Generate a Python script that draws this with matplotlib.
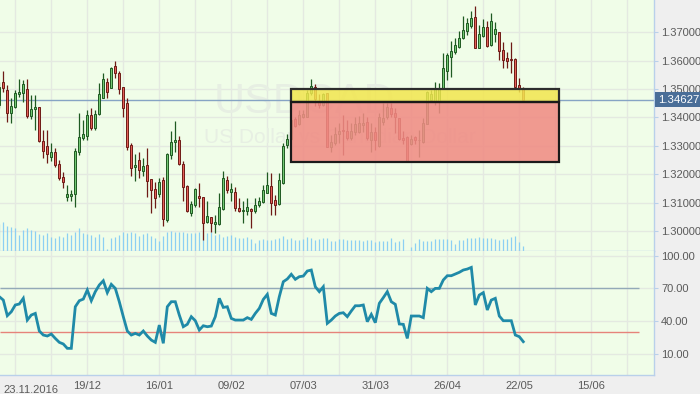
import matplotlib
matplotlib.use('Agg')
import matplotlib.pyplot as plt
import matplotlib.transforms as mtransforms
from matplotlib.patches import Rectangle
import numpy as np

plt.rcParams['font.family'] = ['Liberation Sans', 'DejaVu Sans']

# USD/CAD daily candles, 132 bars (index 0 = first partly visible bar)
opens = [1.3444, 1.3524, 1.3497, 1.3415, 1.3438, 1.3482, 1.3485, 1.3500, 1.3406, 1.3429,
         1.3436, 1.3317, 1.3301, 1.3262, 1.3278, 1.3236, 1.3190, 1.3121, 1.3125, 1.3130,
         1.3278, 1.3329, 1.3336, 1.3409, 1.3362, 1.3411, 1.3470, 1.3524, 1.3503, 1.3581,
         1.3556, 1.3507, 1.3450, 1.3303, 1.3225, 1.3251, 1.3213, 1.3233, 1.3183, 1.3147,
         1.3130, 1.3178, 1.3037, 1.3266, 1.3313, 1.3320, 1.3235, 1.3159, 1.3063, 1.3090,
         1.3124, 1.3119, 1.3031, 1.3049, 1.3024, 1.3024, 1.3077, 1.3180, 1.3139, 1.3139,
         1.3081, 1.3069, 1.3072, 1.3078, 1.3069, 1.3092, 1.3101, 1.3135, 1.3159, 1.3110,
         1.3096, 1.3169, 1.3303, 1.3324, 1.3394, 1.3377, 1.3402, 1.3403, 1.3485, 1.3509,
         1.3459, 1.3444, 1.3485, 1.3297, 1.3311, 1.3342, 1.3356, 1.3353, 1.3327, 1.3350,
         1.3350, 1.3374, 1.3383, 1.3321, 1.3347, 1.3300, 1.3383, 1.3401, 1.3433, 1.3417,
         1.3397, 1.3327, 1.3330, 1.3308, 1.3330, 1.3319, 1.3313, 1.3377, 1.3462, 1.3456,
         1.3458, 1.3503, 1.3565, 1.3614, 1.3630, 1.3647, 1.3679, 1.3706, 1.3723, 1.3753,
         1.3646, 1.3688, 1.3720, 1.3655, 1.3693, 1.3700, 1.3638, 1.3608, 1.3606, 1.3606,
         1.3515, 1.3501]
highs = [1.3525, 1.3564, 1.3515, 1.3468, 1.3497, 1.3536, 1.3532, 1.3536, 1.3479, 1.3479,
         1.3437, 1.3356, 1.3356, 1.3309, 1.3292, 1.3251, 1.3209, 1.3163, 1.3145, 1.3292,
         1.3415, 1.3391, 1.3427, 1.3435, 1.3427, 1.3521, 1.3556, 1.3538, 1.3579, 1.3599,
         1.3564, 1.3509, 1.3468, 1.3310, 1.3271, 1.3280, 1.3257, 1.3292, 1.3184, 1.3174,
         1.3186, 1.3190, 1.3274, 1.3353, 1.3388, 1.3335, 1.3245, 1.3163, 1.3104, 1.3151,
         1.3168, 1.3121, 1.3104, 1.3051, 1.3057, 1.3133, 1.3212, 1.3192, 1.3168, 1.3156,
         1.3118, 1.3107, 1.3118, 1.3080, 1.3116, 1.3121, 1.3163, 1.3207, 1.3204, 1.3127,
         1.3206, 1.3311, 1.3342, 1.3398, 1.3403, 1.3427, 1.3427, 1.3497, 1.3535, 1.3518,
         1.3483, 1.3487, 1.3487, 1.3339, 1.3368, 1.3380, 1.3409, 1.3390, 1.3380, 1.3403,
         1.3405, 1.3415, 1.3403, 1.3380, 1.3368, 1.3415, 1.3452, 1.3450, 1.3450, 1.3433,
         1.3399, 1.3353, 1.3333, 1.3339, 1.3336, 1.3356, 1.3397, 1.3493, 1.3497, 1.3524,
         1.3521, 1.3628, 1.3628, 1.3669, 1.3679, 1.3705, 1.3757, 1.3749, 1.3775, 1.3793,
         1.3726, 1.3746, 1.3740, 1.3767, 1.3737, 1.3702, 1.3665, 1.3632, 1.3667, 1.3609,
         1.3538, 1.3509]
lows = [1.3434, 1.3489, 1.3385, 1.3380, 1.3433, 1.3473, 1.3456, 1.3397, 1.3395, 1.3356,
        1.3313, 1.3257, 1.3239, 1.3245, 1.3227, 1.3180, 1.3153, 1.3104, 1.3104, 1.3083,
        1.3268, 1.3321, 1.3321, 1.3356, 1.3356, 1.3409, 1.3468, 1.3468, 1.3503, 1.3540,
        1.3482, 1.3403, 1.3286, 1.3192, 1.3177, 1.3186, 1.3192, 1.3121, 1.3063, 1.3080,
        1.3121, 1.3019, 1.3033, 1.3254, 1.3280, 1.3233, 1.3106, 1.3066, 1.3054, 1.3083,
        1.3086, 1.2969, 1.3028, 1.2996, 1.2992, 1.3022, 1.3074, 1.3133, 1.3104, 1.3069,
        1.3067, 1.3028, 1.3057, 1.3012, 1.3063, 1.3086, 1.3098, 1.3133, 1.3057, 1.3057,
        1.3092, 1.3166, 1.3293, 1.3321, 1.3368, 1.3374, 1.3397, 1.3401, 1.3479, 1.3441,
        1.3433, 1.3441, 1.3295, 1.3280, 1.3303, 1.3309, 1.3268, 1.3321, 1.3321, 1.3339,
        1.3344, 1.3350, 1.3321, 1.3280, 1.3286, 1.3297, 1.3374, 1.3394, 1.3403, 1.3344,
        1.3321, 1.3306, 1.3247, 1.3303, 1.3306, 1.3262, 1.3309, 1.3376, 1.3456, 1.3444,
        1.3415, 1.3503, 1.3532, 1.3544, 1.3624, 1.3644, 1.3676, 1.3691, 1.3716, 1.3644,
        1.3644, 1.3685, 1.3649, 1.3653, 1.3667, 1.3603, 1.3575, 1.3573, 1.3556, 1.3505,
        1.3489, 1.3465]
closes = [1.3509, 1.3503, 1.3415, 1.3441, 1.3485, 1.3489, 1.3517, 1.3406, 1.3430, 1.3438,
          1.3318, 1.3283, 1.3271, 1.3278, 1.3233, 1.3188, 1.3174, 1.3130, 1.3130, 1.3282,
          1.3330, 1.3342, 1.3409, 1.3362, 1.3411, 1.3482, 1.3536, 1.3489, 1.3573, 1.3556,
          1.3499, 1.3433, 1.3297, 1.3221, 1.3233, 1.3215, 1.3229, 1.3177, 1.3143, 1.3118,
          1.3172, 1.3042, 1.3271, 1.3315, 1.3320, 1.3235, 1.3154, 1.3069, 1.3095, 1.3148,
          1.3116, 1.3028, 1.3053, 1.3028, 1.3033, 1.3084, 1.3186, 1.3143, 1.3148, 1.3081,
          1.3069, 1.3073, 1.3083, 1.3069, 1.3092, 1.3107, 1.3145, 1.3163, 1.3100, 1.3092,
          1.3178, 1.3300, 1.3324, 1.3391, 1.3371, 1.3409, 1.3413, 1.3487, 1.3511, 1.3464,
          1.3443, 1.3483, 1.3297, 1.3315, 1.3342, 1.3353, 1.3353, 1.3327, 1.3353, 1.3377,
          1.3380, 1.3382, 1.3327, 1.3350, 1.3321, 1.3403, 1.3399, 1.3438, 1.3413, 1.3403,
          1.3323, 1.3322, 1.3248, 1.3323, 1.3321, 1.3322, 1.3380, 1.3489, 1.3483, 1.3499,
          1.3499, 1.3573, 1.3620, 1.3634, 1.3655, 1.3679, 1.3708, 1.3732, 1.3749, 1.3646,
          1.3693, 1.3720, 1.3652, 1.3741, 1.3711, 1.3634, 1.3603, 1.3600, 1.3603, 1.3509,
          1.3503, 1.34627]

volume = [80, 87, 75, 72, 69, 48, 63, 69, 63, 60, 51, 48, 54, 42, 39, 45, 42, 54, 48, 57, 69,
          54, 51, 48, 42, 51, 40, 5, 39, 42, 48, 57, 54, 57, 54, 45, 51, 54, 45, 39, 30,
          45, 57, 60, 57, 57, 57, 54, 54, 54, 57, 57, 54, 57, 48, 51, 42, 45, 48, 42, 39,
          39, 42, 36, 24, 33, 36, 33, 33, 36, 39, 45, 36, 39, 33, 33, 36, 42, 39, 33, 36,
          39, 39, 30, 30, 36, 36, 33, 33, 33, 33, 30, 33, 33, 27, 30, 30, 30, 39, 27, 30,
          36, 0, 12, 24, 36, 30, 30, 30, 36, 36, 36, 36, 33, 21, 33, 33, 39, 39, 39, 42,
          39, 39, 39, 36, 33, 36, 36, 42, 45, 27, 15]
volume_max = 752  # volume value at the top of the price panel

rsi = [62.5, 59.4, 45.1, 48.7, 54.9, 55.8, 61, 41.1, 45.7, 47.2,
       31.1, 27.4, 26.5, 28.3, 24.3, 20.7, 19.2, 15.2, 15.2, 53.3,
       58.8, 60.3, 68.6, 58.8, 67.1, 73.2, 77.1, 66.2, 73.8, 70.1,
       57.9, 44.2, 31.1, 27.4, 28.9, 27.4, 31.1, 26.5, 22.8, 20.7,
       36.5, 19.8, 53.3, 57.9, 57.9, 45.7, 35, 37.2, 44.2, 40.5,
       32, 35.9, 35, 35.6, 44.2, 61, 52.7, 53.3, 42.6, 41.1,
       41.1, 41.1, 43.3, 41.7, 47.2, 51.8, 60, 64.6, 47.2, 45.7,
       62.5, 76.2, 78.7, 83, 78.4, 80.8, 81.4, 86, 86.9, 71.6,
       67.1, 71.6, 38.1, 41.1, 44.8, 47.2, 47.8, 44.2, 49.4, 54.2,
       54.2, 54.9, 39.6, 46.3, 38.7, 56.4, 61.6, 67.1, 57.9, 55.5,
       37.5, 37.2, 24.3, 44.8, 44.8, 44.8, 43.3, 70.1, 67.1, 70.1,
       70.1, 77.8, 81.7, 81.7, 83.2, 84.8, 86.9, 87.8, 89.3, 54.9,
       64, 66.2, 50.3, 59.4, 61, 44.8, 40.5, 40.5, 40.5, 27.4,
       25.9, 21.3]

date_labels = ['23.11.2016', '19/12', '16/01', '09/02', '07/03', '31/03', '26/04', '22/05', '15/06']
price_ticks = [1.30, 1.31, 1.32, 1.33, 1.34, 1.35, 1.36, 1.37]
rsi_ticks = [10, 40, 70, 100]
rsi_levels = [70, 30]

# supply / demand zones (bar index, price)
zone_left, zone_right = 72.9, 140.0
yellow_zone = (1.34546, 1.3500)
red_zone = (1.32433, 1.34546)

BG = '#f0fde8'
GRID = '#e4e9e1'
SPINE = '#b9d0ea'
TXT = '#5a5a5a'
WATERMARK = '#e7efe3'

n = len(opens)
idx = np.arange(n)
o, h, l, c = map(np.array, (opens, highs, lows, closes))
up = c >= o

fig = plt.figure(figsize=(7, 3.94), dpi=100)
fig.patch.set_facecolor('#efefef')

ax = fig.add_axes([0, 0.3637, 654 / 700, 0.6363])
ax2 = fig.add_axes([0, 0.04822, 654 / 700, 0.31548], sharex=ax)
ax.set_facecolor(BG)

xlim = (0.175, 163.675)

# volume bars at the foot of the price panel
vol_trans = mtransforms.blended_transform_factory(ax.transData, ax.transAxes)
ax.vlines(idx, 0, np.array(volume) / volume_max, transform=vol_trans,
          color='#8ccff3', lw=0.9, zorder=1)

# candles
ax.vlines(idx[up], l[up], h[up], color='#1f5a22', lw=0.9, zorder=3)
ax.vlines(idx[~up], l[~up], h[~up], color='#6e1a16', lw=0.9, zorder=3)
body = np.maximum(np.abs(c - o), 0.00012)
ax.bar(idx[up], body[up], bottom=np.minimum(o, c)[up], width=0.58,
       color='#72c873', edgecolor='#1f5a22', lw=0.7, zorder=4)
ax.bar(idx[~up], body[~up], bottom=np.minimum(o, c)[~up], width=0.58,
       color='#e35f58', edgecolor='#6e1a16', lw=0.7, zorder=4)

# watermark
ax.text(0.465, 0.595, 'USDCAD', transform=ax.transAxes, fontsize=31,
        color=WATERMARK, ha='center', va='center', zorder=1)
ax.text(0.52, 0.45, 'US Dollar vs Canadian Dollar', transform=ax.transAxes, fontsize=15,
        color=WATERMARK, ha='center', va='center', zorder=1)

# zones
ax.add_patch(Rectangle((zone_left, yellow_zone[0]), zone_right - zone_left,
                       yellow_zone[1] - yellow_zone[0], facecolor='#f2e64e', alpha=0.85,
                       edgecolor='none', zorder=5))
ax.add_patch(Rectangle((zone_left, yellow_zone[0]), zone_right - zone_left,
                       yellow_zone[1] - yellow_zone[0], facecolor='none',
                       edgecolor='#2d2d2d', lw=1.6, zorder=6))
ax.add_patch(Rectangle((zone_left, red_zone[0]), zone_right - zone_left,
                       red_zone[1] - red_zone[0], facecolor='#f08c84', alpha=0.88,
                       edgecolor='none', zorder=5))
ax.add_patch(Rectangle((zone_left, red_zone[0]), zone_right - zone_left,
                       red_zone[1] - red_zone[0], facecolor='none',
                       edgecolor='#1a1a1a', lw=1.6, zorder=6))

# last price line and label
last = closes[-1]
ax.axhline(last, color='#86a4c4', lw=1, zorder=2)
trans = mtransforms.blended_transform_factory(ax.transAxes, ax.transData)
ax.text(1.006, last, f'{last:.5f}', transform=trans, ha='left', va='center',
        color='white', fontsize=8.2,
        bbox=dict(boxstyle='square,pad=0.22', fc='#4a6e98', ec='none'), zorder=10,
        clip_on=False)

ax.set_ylim(1.29306, 1.38137)
ax.set_xlim(*xlim)
ax.set_yticks(price_ticks)
ax.set_yticklabels([f'{p:.5f}' for p in price_ticks])
ax.yaxis.tick_right()

# RSI panel
ax2.set_facecolor(BG)
ax2.plot(idx, rsi, color='#1f8aa8', lw=2, zorder=4, solid_joinstyle='miter')
ax2.hlines(rsi_levels[0], xlim[0], 159.9, color='#93a9b8', lw=1, zorder=3)
ax2.hlines(rsi_levels[1], xlim[0], 159.9, color='#e6837a', lw=1, zorder=3)
ax2.set_ylim(-9.2, 104.6)
ax2.set_yticks(rsi_ticks)
ax2.set_yticklabels([f'{v:.2f}' for v in rsi_ticks])
ax2.yaxis.tick_right()

major = np.arange(4, 160, 18)
minor = np.arange(13, 164, 18)
ax2.set_xticks(major)
ax2.set_xticks(minor, minor=True)
ax2.set_xticklabels([''] + date_labels[1:])
ax2.text(3 / 654, -0.08, date_labels[0], transform=ax2.transAxes, ha='left', va='top',
         fontsize=8, color=TXT)

for a in (ax, ax2):
    a.grid(True, which='both', color=GRID, lw=1, zorder=0)
    a.set_axisbelow(True)
    for name, s in a.spines.items():
        s.set_visible(name in ('right', 'bottom'))
        s.set_color(SPINE)
        s.set_linewidth(1)
    a.tick_params(axis='y', which='both', length=3, color=SPINE, labelcolor=TXT,
                  labelsize=8, pad=2)
    a.tick_params(axis='x', which='both', length=0, labelcolor=TXT, labelsize=8, pad=4)
ax.tick_params(axis='x', labelbottom=False)

fig.savefig('out.png', dpi=100, facecolor=fig.get_facecolor())
